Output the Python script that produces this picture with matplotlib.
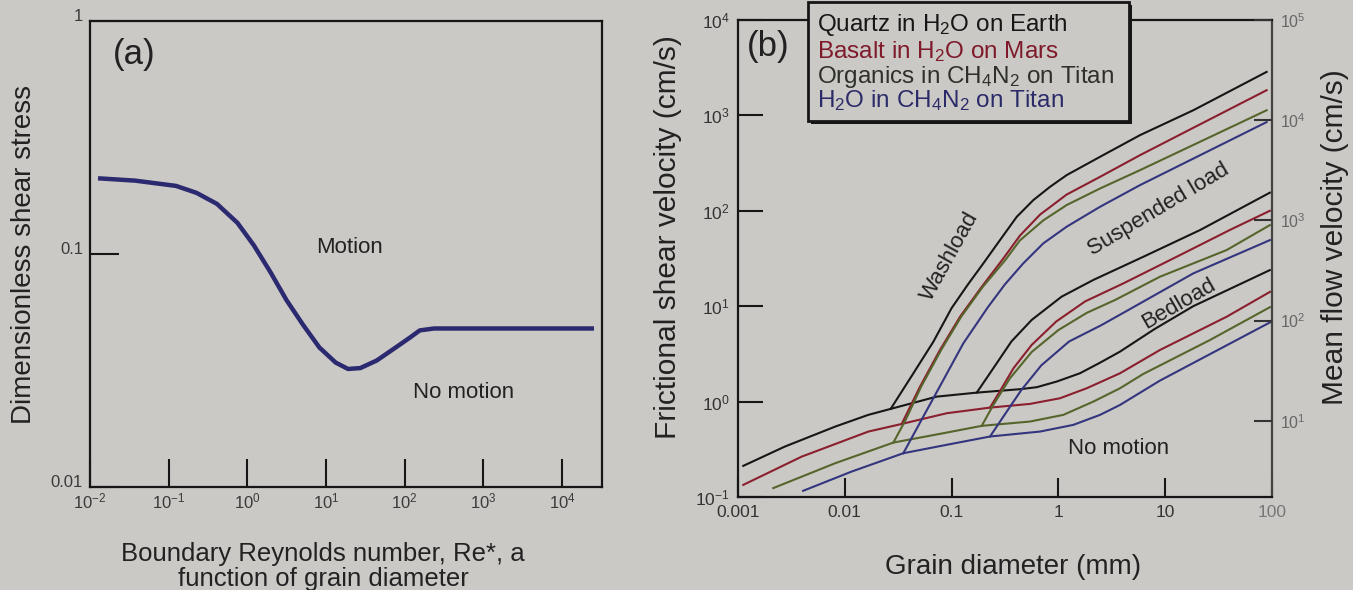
import numpy as np
import matplotlib.pyplot as plt
from matplotlib.patches import Rectangle

plt.rcParams['font.family'] = ['Liberation Sans', 'DejaVu Sans']
plt.rcParams['mathtext.fontset'] = 'custom'
plt.rcParams['mathtext.rm'] = 'Liberation Sans'
plt.rcParams['mathtext.it'] = 'Liberation Sans:italic'
plt.rcParams['mathtext.default'] = 'regular'

PAGE = '#cbc9c5'
INK = '#161616'

# ---- panel (a): Shields curve ----
re_star = [0.0135, 0.0374, 0.124, 0.226, 0.412, 0.75, 1.21, 1.96, 3.16, 5.11,
           8.25, 13.3, 19.1, 27.4, 44.2, 71.4, 115, 156, 237, 24000]
shields_tau = [0.211, 0.2065, 0.196, 0.183, 0.164, 0.136, 0.109, 0.0838, 0.0633, 0.0497,
               0.0397, 0.0342, 0.0321, 0.0324, 0.0349, 0.039, 0.0436, 0.047, 0.0479, 0.0479]

# ---- panel (b): grain diameter (mm) vs frictional shear velocity (cm/s) ----
materials = ['Quartz in H$_2$O on Earth', 'Basalt in H$_2$O on Mars',
             'Organics in CH$_4$N$_2$ on Titan', 'H$_2$O in CH$_4$N$_2$ on Titan']
line_colors = ['#161616', '#8a1f2e', '#55652b', '#33357e']
text_colors = ['#161616', '#7e1a2a', '#2f3029', '#2b2b6a']

# threshold of motion (lower edge of bedload)
quartz_motion_d = [0.00112, 0.00275, 0.00813, 0.0166, 0.0269, 0.0724, 0.172, 0.437, 0.627,
                   0.964, 1.592, 2.455, 3.776, 7.94, 18.3, 95.5]
quartz_motion_v = [0.212, 0.338, 0.547, 0.726, 0.839, 1.127, 1.242, 1.349, 1.416,
                   1.622, 1.982, 2.559, 3.342, 5.754, 10.0, 23.9]
basalt_motion_d = [0.00112, 0.00395, 0.0166, 0.0341, 0.0899, 0.229, 0.542, 1.035, 1.841,
                   3.776, 8.93, 37.67, 95.7]
basalt_motion_v = [0.134, 0.265, 0.485, 0.583, 0.755, 0.865, 0.946, 1.084, 1.380,
                   1.982, 3.475, 7.762, 14.13]
organic_motion_d = [0.00214, 0.00813, 0.0285, 0.0778, 0.1914, 0.542, 1.112, 2.123, 3.776,
                    6.237, 26.3, 95.7]
organic_motion_v = [0.124, 0.226, 0.372, 0.459, 0.557, 0.618, 0.726, 1.0, 1.380,
                    1.950, 4.426, 9.772]
ice_motion_d = [0.00407, 0.01161, 0.03532, 0.0899, 0.229, 0.673, 1.380, 2.455, 3.776, 8.93, 95.7]
ice_motion_v = [0.1161, 0.1849, 0.2877, 0.3524, 0.4305, 0.4853, 0.5702, 0.7261, 0.9226, 1.660, 6.761]

# onset of suspension
quartz_susp_d = [0.172, 0.246, 0.363, 0.562, 1.072, 2.123, 6.237, 21.18, 95.5]
quartz_susp_v = [1.242, 2.239, 4.266, 7.178, 12.59, 18.84, 32.96, 62.8, 154.9]
basalt_susp_d = [0.229, 0.282, 0.380, 0.562, 0.955, 1.778, 4.074, 12.79, 40.46, 95.5]
basalt_susp_v = [0.865, 1.274, 2.239, 3.926, 6.918, 11.22, 17.38, 32.96, 63.1, 100]
organic_susp_d = [0.1914, 0.246, 0.3524, 0.562, 1.0, 1.841, 3.388, 8.93, 37.67, 95.5]
organic_susp_v = [0.557, 0.923, 1.758, 3.311, 5.623, 8.511, 11.61, 20.37, 38.81, 70.8]
ice_susp_d = [0.229, 0.3126, 0.4487, 0.6918, 1.259, 2.512, 4.355, 18.32, 95.7]
ice_susp_v = [0.4305, 0.7244, 1.318, 2.399, 4.266, 6.310, 8.913, 22.08, 49.32]

# washload
quartz_wash_d = [0.0269, 0.0439, 0.0675, 0.1, 0.1406, 0.1982, 0.2838, 0.4074, 0.5821,
                 0.834, 1.194, 2.455, 5.808, 18.32, 89.1]
quartz_wash_v = [0.839, 1.982, 4.246, 9.55, 16.6, 28.1, 49.3, 86.5, 129.4,
                 178.2, 236.6, 368.1, 620.9, 1132, 2858]
basalt_wash_d = [0.0341, 0.0506, 0.0778, 0.12, 0.1905, 0.3048, 0.4365, 0.673, 1.194,
                 2.455, 5.808, 18.32, 89.1]
basalt_wash_v = [0.583, 1.435, 3.475, 7.762, 15.85, 31.62, 54.95, 91.2, 147.9,
                 227.0, 382.8, 741.3, 1837]
organic_wash_d = [0.0285, 0.0372, 0.0519, 0.0798, 0.123, 0.195, 0.3162, 0.4365, 0.7228,
                  1.194, 2.455, 5.808, 89.1]
organic_wash_v = [0.372, 0.6457, 1.435, 3.475, 7.762, 15.85, 30.2, 48.98, 79.43,
                  114.8, 171.4, 266.7, 1132]
ice_wash_d = [0.03532, 0.05433, 0.08375, 0.1288, 0.2188, 0.3162, 0.4688, 0.7228, 1.194,
              2.455, 5.808, 89.1]
ice_wash_v = [0.2877, 0.6966, 1.687, 4.083, 9.772, 16.98, 28.12, 45.6, 68.08,
              110.2, 185.8, 851.1]

motion = [(quartz_motion_d, quartz_motion_v), (basalt_motion_d, basalt_motion_v),
          (organic_motion_d, organic_motion_v), (ice_motion_d, ice_motion_v)]
suspension = [(quartz_susp_d, quartz_susp_v), (basalt_susp_d, basalt_susp_v),
              (organic_susp_d, organic_susp_v), (ice_susp_d, ice_susp_v)]
washload = [(quartz_wash_d, quartz_wash_v), (basalt_wash_d, basalt_wash_v),
            (organic_wash_d, organic_wash_v), (ice_wash_d, ice_wash_v)]

W, H = 1353, 590
fig = plt.figure(figsize=(W / 100, H / 100), dpi=100)
fig.patch.set_facecolor(PAGE)

# ---------------- (a) ----------------
ax1 = fig.add_axes([90 / W, 103 / H, 512 / W, 466 / H])
ax1.set_facecolor(PAGE)
ax1.plot(re_star, shields_tau, color='#2b2a70', lw=3.2, solid_joinstyle='round')
ax1.set_xscale('log')
ax1.set_yscale('log')
ax1.set_xlim(1e-2, 10 ** 4.51)
ax1.set_ylim(0.01, 1)
ax1.minorticks_off()
ax1.set_xticks([1e-2, 1e-1, 1e0, 1e1, 1e2, 1e3, 1e4])
ax1.set_xticklabels(['$10^{-2}$', '$10^{-1}$', '$10^{0}$', '$10^{1}$',
                     '$10^{2}$', '$10^{3}$', '$10^{4}$'])
ax1.set_yticks([0.01, 0.1, 1])
ax1.set_yticklabels(['0.01', '0.1', '1'])
ax1.tick_params(axis='x', direction='in', length=20, width=1.5, pad=3,
                labelsize=12, labelcolor='#3a3a3a', color=INK)
ax1.tick_params(axis='y', direction='in', length=21, width=1.5, pad=5,
                labelsize=12, labelcolor='#3a3a3a', color=INK)
for lab in ax1.get_yticklabels():
    lab.set_va('baseline')
for s in ax1.spines.values():
    s.set_linewidth(1.6)
    s.set_color(INK)

ax1.text(0.087, 0.928, '(a)', transform=ax1.transAxes, fontsize=25,
         ha='center', va='center', color='#222')
ax1.text(0.506, 0.513, 'Motion', transform=ax1.transAxes, fontsize=16,
         ha='center', va='center', color='#222')
ax1.text(0.729, 0.202, 'No motion', transform=ax1.transAxes, fontsize=16,
         ha='center', va='center', color='#222')
ax1.text(0.455, -0.118, 'Boundary Reynolds number, Re*, a\nfunction of grain diameter',
         transform=ax1.transAxes, fontsize=18.5, ha='center', va='top',
         linespacing=1.05, color='#222')
ax1.text(-0.129, 0.50, 'Dimensionless shear stress', transform=ax1.transAxes,
         fontsize=20, rotation=90, ha='center', va='center', color='#222')

# ---------------- (b) ----------------
ax2 = fig.add_axes([738 / W, 93 / H, 534 / W, 477 / H])
ax2.set_facecolor(PAGE)
for i in range(4):
    c = line_colors[i]
    for curve in (motion[i], suspension[i], washload[i]):
        ax2.plot(*curve, color=c, lw=1.5, solid_joinstyle='round')
ax2.set_xscale('log')
ax2.set_yscale('log')
ax2.set_xlim(1e-3, 1e2)
ax2.set_ylim(0.1, 1e4)
ax2.minorticks_off()
ax2.set_xticks([1e-3, 1e-2, 1e-1, 1e0, 1e1, 1e2])
ax2.set_xticklabels(['0.001', '0.01', '0.1', '1', '10', '100'])
ax2.set_yticks([1e-1, 1e0, 1e1, 1e2, 1e3, 1e4])
ax2.set_yticklabels(['$10^{-1}$', '$10^{0}$', '$10^{1}$', '$10^{2}$', '$10^{3}$', '$10^{4}$'])
ax2.tick_params(axis='x', direction='in', length=14, width=1.5, pad=6,
                labelsize=12.5, labelcolor='#333', color=INK)
ax2.tick_params(axis='y', direction='in', length=18, width=1.5, pad=6,
                labelsize=12.5, labelcolor='#333', color=INK, right=False)
ax2.get_xticklabels()[-1].set_color('#777')
for s in ax2.spines.values():
    s.set_linewidth(1.6)
    s.set_color(INK)
ax2.spines['right'].set_color('#444')

ax3 = ax2.twinx()
ax3.set_yscale('log')
ax3.set_ylim(10 ** 0.24, 1e5)
ax3.minorticks_off()
ax3.set_yticks([1e1, 1e2, 1e3, 1e4, 1e5])
ax3.set_yticklabels(['$10^{1}$', '$10^{2}$', '$10^{3}$', '$10^{4}$', '$10^{5}$'])
ax3.tick_params(axis='y', direction='in', length=13, width=1.5, pad=6,
                labelsize=11.5, labelcolor='#666', color='#333')
for s in ax3.spines.values():
    s.set_visible(False)

ax2.text(0.056, 0.944, '(b)', transform=ax2.transAxes, fontsize=25,
         ha='center', va='center', color='#222')
ax2.text(0.397, 0.504, 'Washload', transform=ax2.transAxes, fontsize=16,
         rotation=61, ha='center', va='center', rotation_mode='anchor', color='#222')
ax2.text(0.787, 0.602, 'Suspended load', transform=ax2.transAxes, fontsize=16,
         rotation=31, ha='center', va='center', rotation_mode='anchor', color='#222')
ax2.text(0.825, 0.406, 'Bedload', transform=ax2.transAxes, fontsize=16,
         rotation=30, ha='center', va='center', rotation_mode='anchor', color='#222')
ax2.text(0.712, 0.102, 'No motion', transform=ax2.transAxes, fontsize=16,
         ha='center', va='center', color='#222')
ax2.text(-0.131, 0.545, 'Frictional shear velocity (cm/s)', transform=ax2.transAxes,
         fontsize=21.5, rotation=90, ha='center', va='center', color='#222')
ax2.text(1.118, 0.545, 'Mean flow velocity (cm/s)', transform=ax2.transAxes,
         fontsize=21.5, rotation=90, ha='center', va='center', color='#222')
ax2.text(0.515, -0.147, 'Grain diameter (mm)', transform=ax2.transAxes,
         fontsize=20, ha='center', va='center', color='#222')

# legend box sitting over the top spine
bx0, bx1, by0, by1 = 808, 1129, 2, 121
fig.add_artist(Rectangle((bx0 / W + 0.002, 1 - by1 / H - 0.005), (bx1 - bx0) / W, (by1 - by0) / H,
                         transform=fig.transFigure, facecolor=INK, edgecolor=INK, lw=0, zorder=5))
fig.add_artist(Rectangle((bx0 / W, 1 - by1 / H), (bx1 - bx0) / W, (by1 - by0) / H,
                         transform=fig.transFigure, facecolor=PAGE, edgecolor=INK, lw=2, zorder=6))
baselines = [31.5, 58, 83, 107]
for name, tc, yb in zip(materials, text_colors, baselines):
    fig.text(817 / W, 1 - yb / H, name, fontsize=17.5, color=tc, ha='left',
             va='baseline', zorder=7)

fig.savefig('out.png', dpi=100, facecolor=PAGE)
